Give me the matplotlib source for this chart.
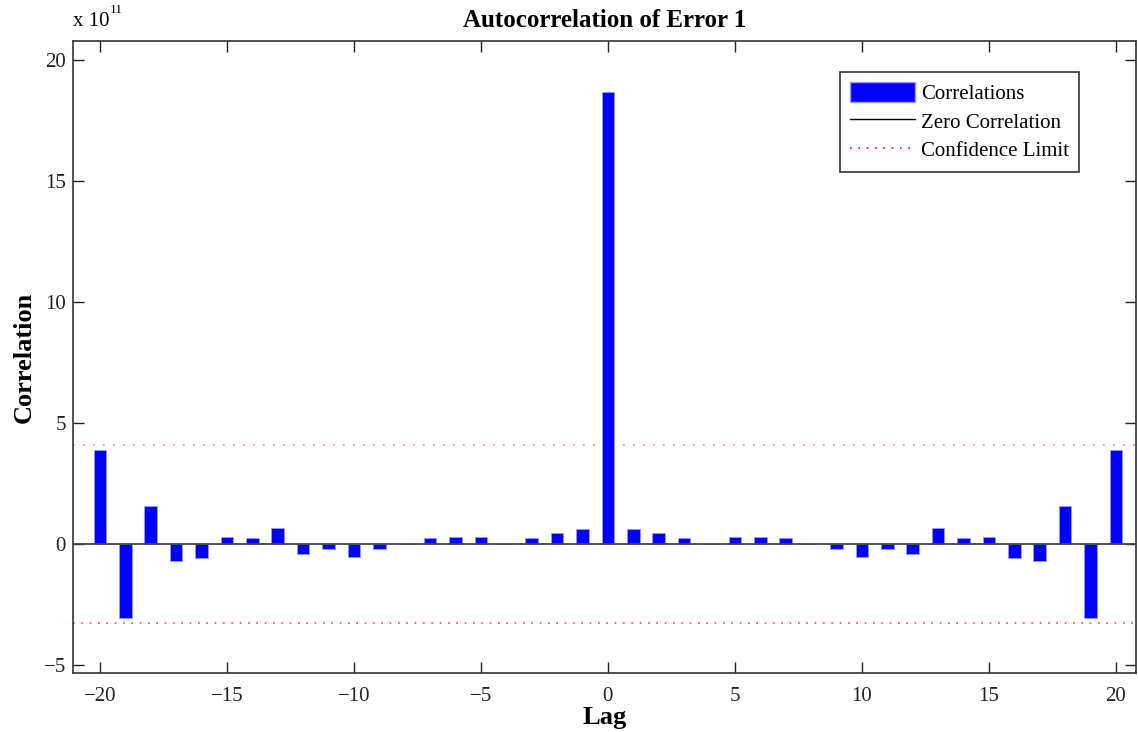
import matplotlib
matplotlib.use("Agg")
import matplotlib.pyplot as plt
from matplotlib.patches import Patch
from matplotlib.lines import Line2D

plt.rcParams['font.family'] = ['Liberation Serif', 'DejaVu Serif']

lags = list(range(-20, 21))
# correlations in units of 1e11
corr = [3.88, -3.06, 1.57, -0.69, -0.58, 0.28, 0.23, 0.65, -0.43, -0.22,
        -0.52, -0.22, 0.0, 0.23, 0.28, 0.28, 0.0, 0.23, 0.44, 0.61,
        18.68,
        0.61, 0.44, 0.23, 0.0, 0.28, 0.28, 0.23, 0.0, -0.22, -0.52,
        -0.22, -0.43, 0.65, 0.23, 0.28, -0.58, -0.69, 1.57, -3.06, 3.88]
conf_upper = 4.09
conf_lower = -3.28
yticks = [-5, 0, 5, 10, 15, 20]
xticks = [-20, -15, -10, -5, 0, 5, 10, 15, 20]

fig = plt.figure(figsize=(11.38, 7.32), dpi=100)
ax = fig.add_axes([0.0641, 0.0806, 0.9339, 0.8634])

ax.bar(lags, corr, width=0.5, color='#0000ff', edgecolor='#9999ff', linewidth=0.6, zorder=2)
ax.axhline(0, color='#444444', linewidth=1.3, zorder=3)
ax.axhline(conf_upper, color='#ff8080', linestyle=(0, (1, 5)), linewidth=1.2, zorder=1)
ax.axhline(conf_lower, color='#ff4040', linestyle=(0, (1, 4)), linewidth=1.2, zorder=1)

ax.set_xlim(-21.06, 20.78)
ax.set_ylim(-5.33, 20.78)
ax.set_xticks(xticks)
ax.set_xticklabels(['\u2212%d' % -t if t < 0 else str(t) for t in xticks])
ax.set_yticks(yticks)
ax.set_yticklabels(['\u2212%d' % -t if t < 0 else str(t) for t in yticks])
ax.tick_params(direction='in', top=True, right=True, length=8, width=1, labelsize=15, colors='#222222')
ax.tick_params(axis='x', pad=10)
ax.tick_params(axis='y', pad=5)
for s in ax.spines.values():
    s.set_color('#333333')
    s.set_linewidth(1.2)

ax.set_title('Autocorrelation of Error 1', fontsize=18, fontweight='bold', pad=10)
ax.set_xlabel('Lag', fontsize=19, fontweight='bold', labelpad=0)
ax.set_ylabel('Correlation', fontsize=19, fontweight='bold', labelpad=6)

fig.text(0.0641, 0.958, 'x 10', fontsize=15, ha='left', va='bottom')
fig.text(0.0965, 0.978, '11', fontsize=9.5, ha='left', va='bottom')

handles = [Patch(facecolor='#0000ff', edgecolor='#9999ff'),
           Line2D([0], [0], color='black', linewidth=1),
           Line2D([0], [0], color='red', linestyle=(0, (1, 4)), linewidth=1.2)]
leg = ax.legend(handles, ['Correlations', 'Zero Correlation', 'Confidence Limit'],
                loc='upper right', bbox_to_anchor=(0.947, 0.951), fontsize=15,
                fancybox=False, framealpha=1, edgecolor='#333333',
                handlelength=3.1, handleheight=1.1, borderaxespad=0, labelspacing=0.3,
                handletextpad=0.3, borderpad=0.5)
leg.get_frame().set_linewidth(1.2)

fig.savefig('out.png', dpi=100)
